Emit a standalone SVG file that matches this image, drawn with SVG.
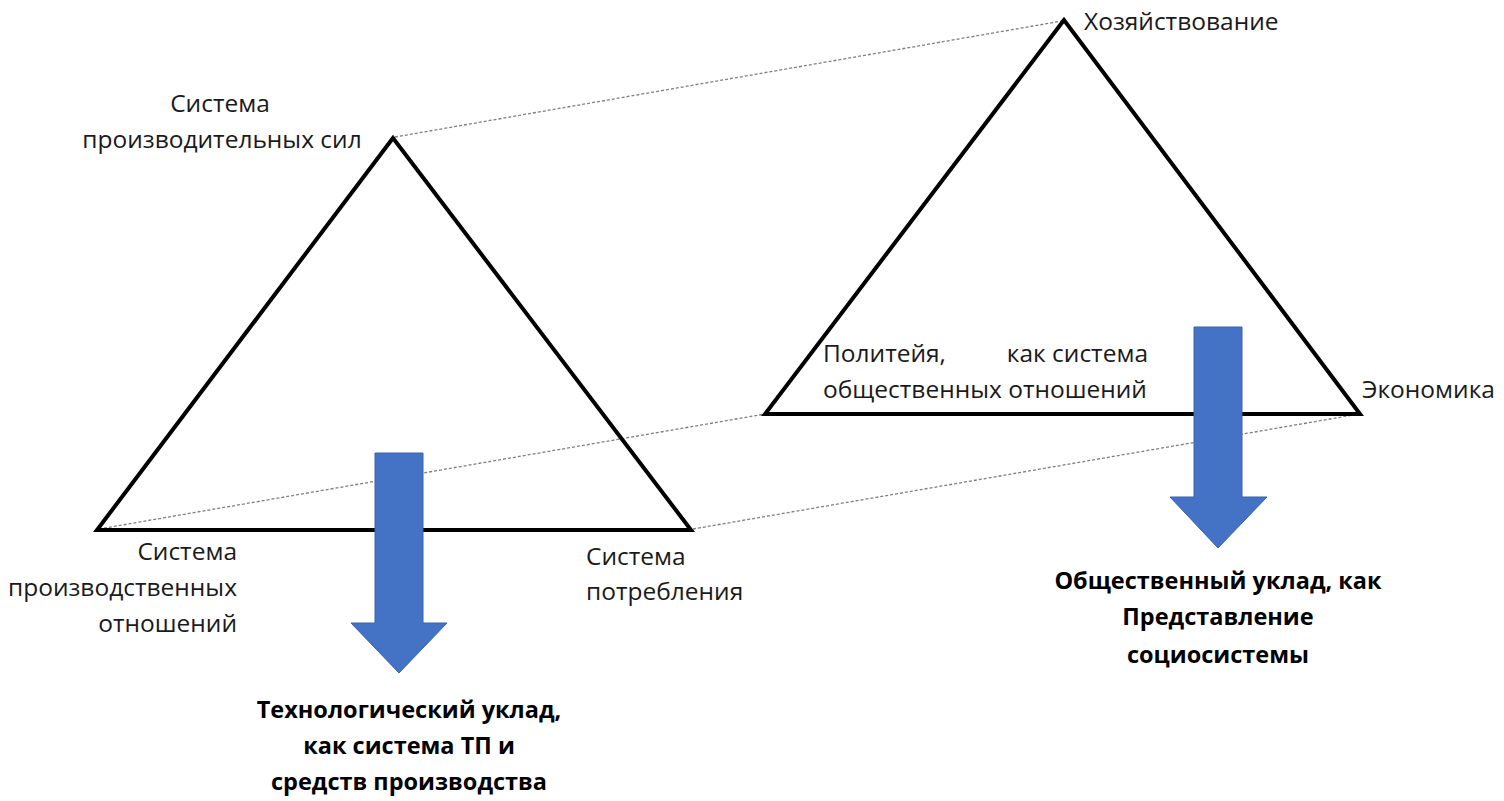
<svg xmlns="http://www.w3.org/2000/svg" width="1504" height="801" viewBox="0 0 1504 801">
<style>
.tri{fill:none;stroke:#000;stroke-width:4;stroke-linejoin:miter}
.dot{stroke:#7f7f7f;stroke-width:1.3;stroke-dasharray:3 2;fill:none}
.arr{fill:#4472C4;stroke:#3a62ad;stroke-width:1}
text{font-family:"Open Sans","Noto Sans","DejaVu Sans",sans-serif;font-size:24.5px;fill:#1a1a1a}
.b{font-weight:bold;fill:#000;font-size:23.5px}
</style>
<rect width="1504" height="801" fill="#fff"/>
<g id="connectors">
<line class="dot" x1="395" y1="137" x2="1062" y2="21"/>
<line class="dot" x1="99" y1="529" x2="765" y2="414"/>
<line class="dot" x1="693" y1="529" x2="1359" y2="414"/>
</g>
<g id="triangle-left">
<polygon class="tri" points="393,138 97,530 691,530"/>
</g>
<g id="triangle-right">
<polygon class="tri" points="1064,20 765,414 1360,414"/>
</g>
<g id="arrow-left">
<polygon class="arr" points="375,453 423,453 423,623 447,623 399,673 351,623 375,623"/>
</g>
<g id="arrow-right">
<polygon class="arr" points="1194,327 1242,327 1242,497 1267,497 1218,548 1170,497 1194,497"/>
</g>
<g id="label-prod-forces">
<text x="220" y="112" text-anchor="middle">Система</text>
<text x="222" y="148" text-anchor="middle">производительных сил</text>
</g>
<g id="label-hoz">
<text x="1084" y="30">Хозяйствование</text>
</g>
<g id="label-politeia">
<text x="823" y="362">Политейя,</text>
<text x="1148" y="362" text-anchor="end">как система</text>
<text x="823" y="398">общественных отношений</text>
</g>
<g id="label-econ">
<text x="1362" y="398">Экономика</text>
</g>
<g id="label-prod-rel">
<text x="237" y="560" text-anchor="end">Система</text>
<text x="237" y="596" text-anchor="end">производственных</text>
<text x="237" y="632" text-anchor="end">отношений</text>
</g>
<g id="label-consumption">
<text x="586" y="565">Система</text>
<text x="586" y="600">потребления</text>
</g>
<g id="label-tech">
<text class="b" x="409" y="718" text-anchor="middle">Технологический уклад,</text>
<text class="b" x="409" y="754" text-anchor="middle">как система ТП и</text>
<text class="b" x="409" y="790" text-anchor="middle">средств производства</text>
</g>
<g id="label-social">
<text class="b" x="1218" y="589" text-anchor="middle">Общественный уклад, как</text>
<text class="b" x="1218" y="625" text-anchor="middle">Представление</text>
<text class="b" x="1218" y="663" text-anchor="middle">социосистемы</text>
</g>
</svg>
